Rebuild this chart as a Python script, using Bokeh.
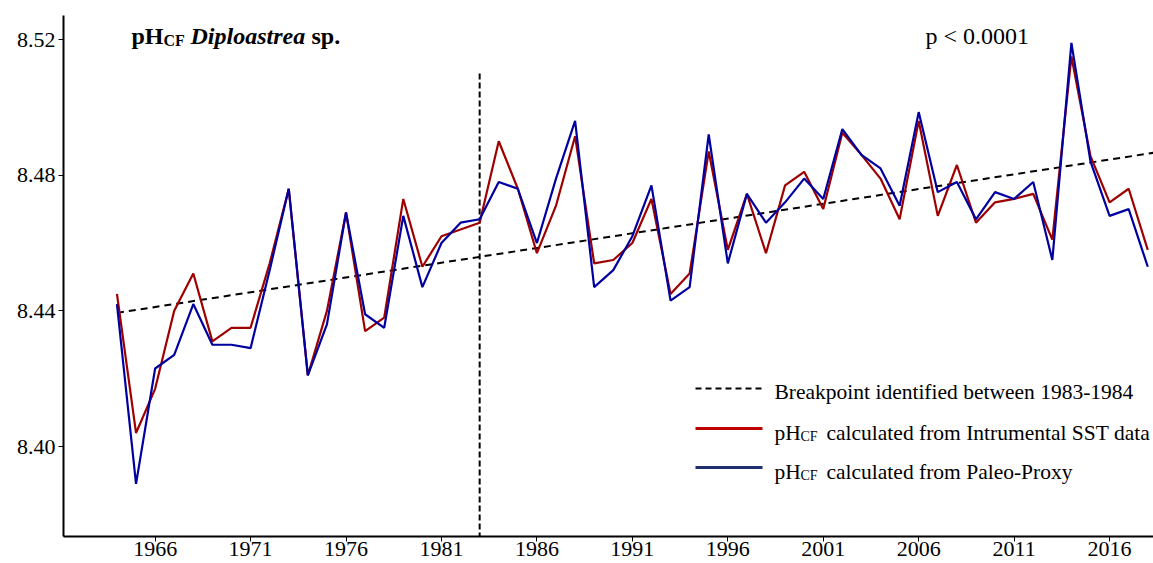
from bokeh.plotting import figure
from bokeh.models import Range1d, FixedTicker, PrintfTickFormatter, Label
from bokeh.embed import file_html
from bokeh.resources import INLINE

# ---------------- data ----------------
years = list(range(1964, 2019))
ph_instrumental = [8.445, 8.404, 8.417, 8.440, 8.451, 8.431, 8.435, 8.435, 8.454, 8.476,
                   8.421, 8.440, 8.469, 8.434, 8.438, 8.473, 8.453, 8.462, 8.464, 8.466,
                   8.490, 8.476, 8.457, 8.471, 8.4915, 8.454, 8.455, 8.460, 8.473, 8.445,
                   8.451, 8.487, 8.458, 8.4745, 8.457, 8.477, 8.481, 8.470, 8.4925, 8.486,
                   8.479, 8.467, 8.496, 8.468, 8.483, 8.466, 8.472, 8.473, 8.4745, 8.461,
                   8.515, 8.4856, 8.472, 8.476, 8.458]
ph_paleo = [8.442, 8.389, 8.423, 8.427, 8.442, 8.430, 8.430, 8.429, 8.452, 8.476,
            8.421, 8.436, 8.469, 8.439, 8.435, 8.468, 8.447, 8.460, 8.466, 8.467,
            8.478, 8.476, 8.460, 8.479, 8.496, 8.447, 8.452, 8.462, 8.477, 8.443,
            8.447, 8.492, 8.454, 8.4745, 8.466, 8.472, 8.479, 8.473, 8.4936, 8.486,
            8.482, 8.471, 8.4986, 8.475, 8.478, 8.467, 8.475, 8.473, 8.478, 8.455,
            8.519, 8.484, 8.468, 8.470, 8.453]
trend_years = [1964, 2018.3]
trend_values = [8.4394, 8.4866]
breakpoint_year = 1983
breakpoint_top = 8.510
x_ticks = [1966, 1971, 1976, 1981, 1986, 1991, 1996, 2001, 2006, 2011, 2016]
y_ticks = [8.40, 8.44, 8.48, 8.52]

# ---------------- layout ----------------
W, H = 1153, 563
BL, BR, BT, BB = 63, 0, 15, 27
X0, X1 = 1961.2, 2018.3
Y1 = 8.52708
FRAME_W = W - BL - BR
FRAME_H = H - BT - BB
KY = 3391.7
Y0 = Y1 - FRAME_H / KY
KX = FRAME_W / (X1 - X0)


def dx(px):  # picture pixel x -> data x
    return X0 + (px - BL) / KX


def dy(py):  # picture pixel y -> data y
    return Y1 - (py - BT) / KY


p = figure(width=W, height=H, x_range=Range1d(X0, X1), y_range=Range1d(Y0, Y1),
           output_backend="svg", toolbar_location=None,
           min_border_left=BL, min_border_right=BR, min_border_top=BT, min_border_bottom=BB)
p.outline_line_color = None
p.xgrid.visible = False
p.ygrid.visible = False
p.background_fill_color = "white"
p.border_fill_color = "white"

FONT = "Liberation Serif"
RED = "#9E0000"
BLUE = "#0000A0"

for ax in (p.xaxis[0], p.yaxis[0]):
    ax.axis_line_width = 2
    ax.axis_line_color = "black"
    ax.major_tick_line_color = "black"
    ax.major_tick_line_width = 1
    ax.minor_tick_line_color = None
    ax.major_label_text_font = FONT
    ax.major_label_text_font_size = "22px"
    ax.major_label_text_color = "black"

p.xaxis.ticker = FixedTicker(ticks=x_ticks)
p.xaxis.major_tick_in = 0
p.xaxis.major_tick_out = 5
p.xaxis.major_label_standoff = 0

p.yaxis.ticker = FixedTicker(ticks=y_ticks)
p.yaxis.formatter = PrintfTickFormatter(format="%.2f")
p.yaxis.major_tick_in = 0
p.yaxis.major_tick_out = 5
p.yaxis.major_label_standoff = 3

# trend line
p.line(trend_years, trend_values, line_color="black", line_width=2, line_dash="7 5")
# breakpoint vertical
p.segment(x0=[breakpoint_year], y0=[breakpoint_top], x1=[breakpoint_year], y1=[Y0],
          line_color="black", line_width=2, line_dash="6 3")
# series
p.line(years, ph_instrumental, line_color=RED, line_width=2.2)
p.line(years, ph_paleo, line_color=BLUE, line_width=2.2)

# ---------------- title & p-value ----------------
def lab(x, y, text, size, xoff=0, yoff=0, style="normal"):
    p.add_layout(Label(x=x, y=y, text=text, x_offset=xoff, y_offset=yoff,
                       text_font=FONT, text_font_size=size, text_font_style=style,
                       text_color="black", text_align="left", text_baseline="alphabetic"))

tx, ty = dx(131), dy(35)
lab(tx, ty, "pH", "24px", 0, 0, "bold")
lab(tx, ty, "CF", "16px", 32, -5, "bold")
lab(tx, ty, "Diploastrea", "24px", 59, 0, "bold italic")
lab(tx, ty, "sp.", "24px", 180, 0, "bold")

lab(dx(925), dy(35), "p < 0.0001", "24px")

# ---------------- legend ----------------
LX0, LX1 = dx(695), dx(762)
TX = dx(774)
rows = [
    (388, 391, "black", "6 4", None),
    (428, 432, "#C00000", "solid", "calculated from Intrumental SST data"),
    (467, 471, "#1F2F70", "solid", "calculated from Paleo-Proxy"),
]
for ly, by, col, dash, txt in rows:
    p.line([LX0, LX1], [dy(ly), dy(ly)], line_color=col, line_width=3 if dash == "solid" else 2,
           line_dash=dash)
    if txt is None:
        lab(TX, dy(by), "Breakpoint identified between 1983-1984", "21.5px")
    else:
        lab(TX, dy(by), "pH", "21.5px")
        lab(TX, dy(by), "CF", "14px", 26, -4)
        lab(TX, dy(by), txt, "21.5px", 52)

open("out.html", "w").write(file_html(p, INLINE))
